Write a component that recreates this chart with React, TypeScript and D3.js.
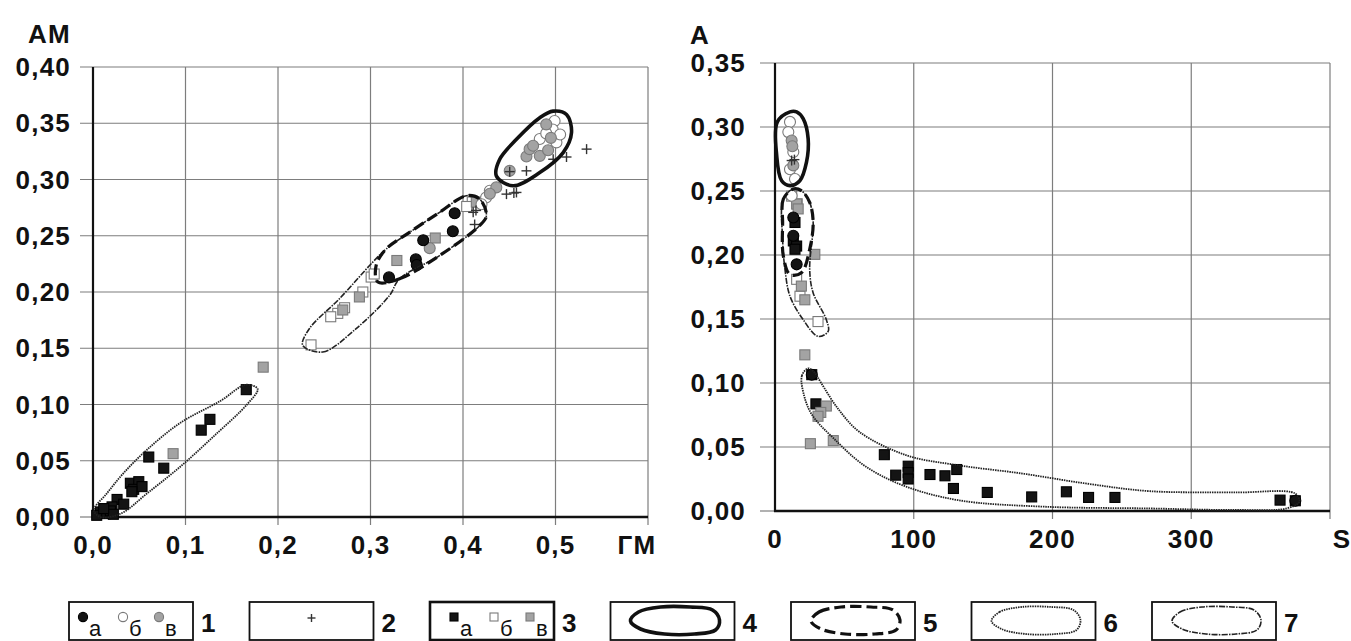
import React from 'react';
import * as d3 from 'd3';

type P = [number, number];

// ---------- Left chart (ГМ vs AM) ----------
const leftXTicks = [0, 0.1, 0.2, 0.3, 0.4, 0.5];
const leftXTickLabels = ['0,0', '0,1', '0,2', '0,3', '0,4', '0,5'];
const leftYTicks = [0, 0.05, 0.1, 0.15, 0.2, 0.25, 0.3, 0.35, 0.4];
const leftYTickLabels = ['0,00', '0,05', '0,10', '0,15', '0,20', '0,25', '0,30', '0,35', '0,40'];
const leftXGrid = [0.1, 0.2, 0.3, 0.4, 0.5, 0.6];
const leftYGrid = [0.05, 0.1, 0.15, 0.2, 0.25, 0.3, 0.35, 0.4];

const leftBlackCircles: P[] = [
  [0.320, 0.213], [0.349, 0.229], [0.350, 0.224], [0.357, 0.246], [0.389, 0.254], [0.391, 0.270],
];
const leftOpenCircles: P[] = [
  [0.499, 0.352], [0.497, 0.3445], [0.501, 0.333], [0.483, 0.336], [0.425, 0.284], [0.429, 0.290],
  [0.490, 0.341], [0.505, 0.340], [0.420, 0.278],
];
const leftGrayCircles: P[] = [
  [0.4505, 0.3077], [0.436, 0.293], [0.429, 0.2873], [0.4686, 0.3204], [0.472, 0.327], [0.483, 0.321],
  [0.4758, 0.330], [0.492, 0.326], [0.490, 0.349], [0.364, 0.239], [0.495, 0.337],
];
const leftPlus: P[] = [
  [0.5336, 0.327], [0.5119, 0.320], [0.4975, 0.318], [0.4686, 0.3077], [0.447, 0.287], [0.4578, 0.2885],
  [0.411, 0.2708], [0.4126, 0.260], [0.414, 0.2725], [0.4505, 0.307], [0.455, 0.288],
];
const leftBlackSquares: P[] = [
  [0.1657, 0.1132], [0.1264, 0.0868], [0.117, 0.0772], [0.0603, 0.0533], [0.0765, 0.0434],
  [0.0404, 0.030], [0.0495, 0.0314], [0.044, 0.0246], [0.053, 0.027], [0.042, 0.0225],
  [0.026, 0.0156], [0.0332, 0.0114], [0.0206, 0.009], [0.008, 0.0045], [0.0134, 0.003],
  [0.0188, 0.0054], [0.004, 0.0015], [0.022, 0.0024], [0.0116, 0.0075],
];
const leftOpenSquares: P[] = [
  [0.2357, 0.153], [0.2646, 0.181], [0.257, 0.178], [0.2917, 0.200], [0.3007, 0.2133], [0.304, 0.216],
  [0.410, 0.280], [0.404, 0.276], [0.272, 0.186],
];
const leftGraySquares: P[] = [
  [0.184, 0.1332], [0.0866, 0.0563], [0.288, 0.1956], [0.3285, 0.228], [0.370, 0.248], [0.4144, 0.280],
  [0.270, 0.184],
];

// contours (outline vertices, data units)
const leftContourLower: P[] = [
  [0.001, 0.006], [0.008, 0.0], [0.03, 0.003], [0.0585, 0.021], [0.0946, 0.0449], [0.1307, 0.0719],
  [0.1668, 0.1003], [0.178, 0.1138], [0.165, 0.1175], [0.138, 0.1033], [0.0946, 0.0838],
  [0.0585, 0.0599], [0.033, 0.039], [0.015, 0.021],
];
const leftContourMiddleThin: P[] = [
  [0.2267, 0.1527], [0.2484, 0.1467], [0.2845, 0.1675], [0.3206, 0.197], [0.3314, 0.2118],
  [0.3747, 0.2324], [0.418, 0.259], [0.4253, 0.2678], [0.418, 0.2826], [0.4036, 0.2856],
  [0.3747, 0.2708], [0.3422, 0.253], [0.317, 0.2383], [0.3025, 0.2266], [0.2664, 0.194], [0.234, 0.1675],
];
const leftContourDashed: P[] = [
  [0.308, 0.2088], [0.3314, 0.2118], [0.3747, 0.2324], [0.418, 0.259], [0.4253, 0.2678],
  [0.418, 0.2826], [0.4036, 0.2856], [0.3747, 0.2708], [0.3422, 0.253], [0.317, 0.2383], [0.3061, 0.2236],
];
const leftContourBold: P[] = [
  [0.4361, 0.3032], [0.4541, 0.2944], [0.483, 0.3062], [0.5083, 0.3239], [0.5173, 0.3416],
  [0.5119, 0.3578], [0.4975, 0.3608], [0.483, 0.3549], [0.4578, 0.3357], [0.4397, 0.318],
];

// ---------- Right chart (S vs A) ----------
const rightXTicks = [0, 100, 200, 300];
const rightXTickLabels = ['0', '100', '200', '300'];
const rightYTicks = [0, 0.05, 0.1, 0.15, 0.2, 0.25, 0.3, 0.35];
const rightYTickLabels = ['0,00', '0,05', '0,10', '0,15', '0,20', '0,25', '0,30', '0,35'];
const rightXGrid = [100, 200, 300, 400];
const rightYGrid = [0.05, 0.1, 0.15, 0.2, 0.25, 0.3, 0.35];

const rightBlackCircles: P[] = [[13.2, 0.215], [15.6, 0.1927], [26.5, 0.1065], [375, 0.008], [13.2, 0.2293]];
const rightOpenCircles: P[] = [[10.8, 0.304], [9.6, 0.296], [13.2, 0.2804], [10.8, 0.267], [14.4, 0.2594], [12, 0.2463]];
const rightGrayCircles: P[] = [[12, 0.2895], [13.2, 0.270], [12.5, 0.285]];
const rightPlus: P[] = [[12, 0.2738], [14, 0.2745]];
const rightBlackSquares: P[] = [
  [14.4, 0.2254], [13.2, 0.211], [15.6, 0.207], [14.4, 0.2045], [26.5, 0.1065], [29.5, 0.0837],
  [78.8, 0.044], [87, 0.028], [96, 0.035], [96, 0.030], [96, 0.025], [111.7, 0.0285], [122.5, 0.0275],
  [131, 0.0324], [128.6, 0.0176], [153, 0.0145], [185, 0.011], [210, 0.015], [226, 0.0106],
  [245, 0.0106], [364, 0.0085], [375, 0.008],
];
const rightOpenSquares: P[] = [[12, 0.246], [15.6, 0.181], [18, 0.1678], [31, 0.148], [16, 0.240]];
const rightGraySquares: P[] = [
  [15.6, 0.2398], [16.7, 0.236], [28.7, 0.2005], [19, 0.1757], [21.5, 0.165], [21.5, 0.122],
  [37, 0.082], [33, 0.077], [31, 0.074], [25.5, 0.0526], [42, 0.055],
];

const rightContourBold: P[] = [
  [10.8, 0.3118], [1.7, 0.304], [1.2, 0.278], [4.8, 0.258], [10.8, 0.2542], [17.9, 0.258],
  [22.7, 0.2725], [23.9, 0.2908], [20.3, 0.3065], [15.6, 0.3118],
];
const rightContourDashed: P[] = [
  [13.2, 0.2516], [6, 0.2437], [5.5, 0.2254], [6, 0.1992], [10.8, 0.1848], [19, 0.1861],
  [25, 0.2045], [27.5, 0.2254], [25, 0.2411], [19, 0.2503],
];
const rightContourThin: P[] = [
  [13.2, 0.2516], [6, 0.2437], [5.5, 0.2123], [7.2, 0.1887], [10.8, 0.1678], [20.3, 0.1495],
  [31, 0.1364], [38.3, 0.1403], [37, 0.1495], [27.5, 0.1704], [25, 0.1887], [27.5, 0.2254],
  [25, 0.2411], [19, 0.2503],
];
const rightContourLower: P[] = [
  [24, 0.1114], [19.4, 0.1057], [21, 0.090], [27, 0.0746], [42.5, 0.0565], [64, 0.0358],
  [91.7, 0.0202], [131.7, 0.0085], [193, 0.0034], [270, 0.002], [331.7, 0.0008], [368.6, 0.002],
  [378, 0.0073], [374.8, 0.0137], [331.7, 0.0145], [270, 0.0155], [224, 0.0215], [178, 0.0293],
  [131.7, 0.0358], [94.8, 0.0435], [61, 0.0617], [45.5, 0.0798], [33, 0.1005], [28.6, 0.108],
];

// ---------- Legend ----------
const legendNumbers = ['1', '2', '3', '4', '5', '6', '7'];
const legendSubLabels = ['а', 'б', 'в'];

const FONT = "'Liberation Sans', Arial, sans-serif";

type ContourStyle = 'bold' | 'dashed' | 'dotted' | 'thin';
const contourStyle: Record<ContourStyle, any> = {
  bold: { stroke: '#111', strokeWidth: 3.6 },
  dashed: { stroke: '#111', strokeWidth: 3.2, strokeDasharray: '11 5' },
  dotted: { stroke: '#222', strokeWidth: 1.8, strokeDasharray: '1.5 0.9' },
  thin: { stroke: '#222', strokeWidth: 1.6, strokeDasharray: '6 1.2 1.5 1.2' },
};

const BLACK = '#141414';
const GRAY = '#a3a3a3';

function Circle({ x, y, kind, r = 5.5 }: { x: number; y: number; kind: string; r?: number }) {
  const fill = kind === 'black' ? BLACK : kind === 'gray' ? GRAY : '#fff';
  const stroke = kind === 'black' ? '#000' : '#7a7a7a';
  return <circle cx={x} cy={y} r={r} fill={fill} stroke={stroke} strokeWidth={1.1} />;
}
function Square({ x, y, kind, s = 10 }: { x: number; y: number; kind: string; s?: number }) {
  const fill = kind === 'black' ? BLACK : kind === 'gray' ? GRAY : '#fff';
  const stroke = kind === 'black' ? '#000' : '#7a7a7a';
  return <rect x={x - s / 2} y={y - s / 2} width={s} height={s} fill={fill} stroke={stroke} strokeWidth={1.1} />;
}
function Plus({ x, y, h = 5 }: { x: number; y: number; h?: number }) {
  return (
    <g stroke="#333" strokeWidth={1.4}>
      <line x1={x - h} x2={x + h} y1={y} y2={y} />
      <line x1={x} x2={x} y1={y - h} y2={y + h} />
    </g>
  );
}

interface ChartProps {
  xDomain: [number, number];
  yDomain: [number, number];
  xRange: [number, number];
  yRange: [number, number];
  xTicks: number[];
  xTickLabels: string[];
  yTicks: number[];
  yTickLabels: string[];
  xGrid: number[];
  yGrid: number[];
  yLabelX: number;
  tickLen: number;
  yTitle: string;
  yTitleX: number;
  yTitleY: number;
  xTitle: string;
  xTitleX: number;
  series: { kind: string; shape: string; pts: P[] }[];
  contours: { style: ContourStyle; pts: P[] }[];
}

function Chart(p: ChartProps) {
  const x = d3.scaleLinear().domain(p.xDomain).range(p.xRange);
  const y = d3.scaleLinear().domain(p.yDomain).range(p.yRange);
  const line = d3
    .line<P>()
    .x((d) => x(d[0]))
    .y((d) => y(d[1]))
    .curve(d3.curveCatmullRomClosed.alpha(0.5));
  const [x0, x1] = p.xRange;
  const [yb, yt] = p.yRange;
  const labelStyle = { fontFamily: FONT, fontWeight: 700, fontSize: 26, letterSpacing: 1.2, fill: '#111' };
  return (
    <g>
      {/* grid */}
      {p.xGrid.map((v) => (
        <line key={'vx' + v} x1={x(v)} x2={x(v)} y1={yt} y2={yb + 8} stroke="#7d7d7d" strokeWidth={1.2} />
      ))}
      {p.yGrid.map((v) => (
        <line key={'hy' + v} x1={x0 - p.tickLen} x2={x1} y1={y(v)} y2={y(v)} stroke="#7d7d7d" strokeWidth={1.2} />
      ))}
      <line x1={x0 - p.tickLen} x2={x0} y1={yb} y2={yb} stroke="#7d7d7d" strokeWidth={1.2} />
      {/* axes */}
      <line x1={x0} x2={x0} y1={yt} y2={yb + 1} stroke="#111" strokeWidth={2.2} />
      <line x1={x0 - 1} x2={x1} y1={yb} y2={yb} stroke="#111" strokeWidth={2.6} />
      {/* points */}
      {p.series.map((s, si) =>
        s.pts.map((d, i) => {
          const cx = x(d[0]);
          const cy = y(d[1]);
          if (s.shape === 'circle') return <Circle key={si + '-' + i} x={cx} y={cy} kind={s.kind} />;
          if (s.shape === 'square') return <Square key={si + '-' + i} x={cx} y={cy} kind={s.kind} />;
          return <Plus key={si + '-' + i} x={cx} y={cy} />;
        })
      )}
      {/* contours */}
      {p.contours.map((c, i) => (
        <path key={'c' + i} d={line(c.pts) || ''} fill="none" strokeLinecap="butt" {...contourStyle[c.style]} />
      ))}
      {/* tick labels */}
      {p.yTicks.map((v, i) => (
        <text key={'yl' + v} x={p.yLabelX} y={y(v) + 9} textAnchor="end" {...labelStyle}>
          {p.yTickLabels[i]}
        </text>
      ))}
      {p.xTicks.map((v, i) => (
        <text key={'xl' + v} x={x(v)} y={yb + 37} textAnchor="middle" {...labelStyle}>
          {p.xTickLabels[i]}
        </text>
      ))}
      <text x={p.xTitleX} y={yb + 37} textAnchor="middle" {...labelStyle}>
        {p.xTitle}
      </text>
      <text x={p.yTitleX} y={p.yTitleY} textAnchor="start" {...labelStyle}>
        {p.yTitle}
      </text>
    </g>
  );
}

function Egg({ cx, cy, style }: { cx: number; cy: number; style: ContourStyle }) {
  const shape: P[] = [
    [-44, 1], [-36, -8], [-14, -13], [16, -13], [38, -10], [45, 0], [41, 10], [20, 14], [-10, 14], [-34, 9],
  ];
  const line = d3
    .line<P>()
    .x((d) => cx + d[0])
    .y((d) => cy + d[1])
    .curve(d3.curveCatmullRomClosed.alpha(0.5));
  return <path d={line(shape) || ''} fill="none" {...contourStyle[style]} />;
}

function Legend() {
  const boxX = d3.scalePoint<string>().domain(legendNumbers).range([69, 1152]);
  const boxW = 124;
  const top = 602;
  const h = 38;
  const cy = top + 18;
  const numStyle = { fontFamily: FONT, fontWeight: 700, fontSize: 26, fill: '#111' };
  const subStyle = { fontFamily: FONT, fontWeight: 400, fontSize: 22, fill: '#111' };
  const kinds = ['black', 'open', 'gray'];
  const subOffsets = [14, 54, 90];
  const eggStyles: ContourStyle[] = ['bold', 'dashed', 'dotted', 'thin'];
  return (
    <g>
      {legendNumbers.map((n, i) => {
        const bx = boxX(n) as number;
        return (
          <g key={n}>
            <rect x={bx} y={top} width={boxW} height={h} fill="#fff" stroke="#111" strokeWidth={i === 2 ? 2.6 : 1.8} />
            <text x={bx + boxW + 8} y={top + 30} {...numStyle}>
              {n}
            </text>
            {i === 0 &&
              kinds.map((k, j) => (
                <g key={k}>
                  <Circle x={bx + subOffsets[j]} y={cy - 3} kind={k} r={4.6} />
                  <text x={bx + subOffsets[j] + 6} y={top + 34} {...subStyle}>
                    {legendSubLabels[j]}
                  </text>
                </g>
              ))}
            {i === 1 && <Plus x={bx + boxW / 2} y={cy - 2} h={4} />}
            {i === 2 &&
              kinds.map((k, j) => (
                <g key={k}>
                  <Square x={bx + subOffsets[j] + 10} y={cy - 3} kind={k} s={8} />
                  <text x={bx + subOffsets[j] + 16} y={top + 34} {...subStyle}>
                    {legendSubLabels[j]}
                  </text>
                </g>
              ))}
            {i >= 3 && <Egg cx={bx + boxW / 2 + 2} cy={cy} style={eggStyles[i - 3]} />}
          </g>
        );
      })}
    </g>
  );
}

export default function App() {
  return (
    <svg
      width={1351}
      height={641}
      style={{ position: 'absolute', left: 0, top: 0, background: '#fff' }}
      xmlns="http://www.w3.org/2000/svg"
    >
      <rect x={0} y={0} width={1351} height={641} fill="#fff" />
      <Chart
        xDomain={[0, 0.6]}
        yDomain={[0, 0.4]}
        xRange={[93, 648]}
        yRange={[517, 67]}
        xTicks={leftXTicks}
        xTickLabels={leftXTickLabels}
        yTicks={leftYTicks}
        yTickLabels={leftYTickLabels}
        xGrid={leftXGrid}
        yGrid={leftYGrid}
        yLabelX={71}
        tickLen={13}
        yTitle="АМ"
        yTitleX={28}
        yTitleY={43}
        xTitle="ГМ"
        xTitleX={637}
        series={[
          { kind: 'black', shape: 'square', pts: leftBlackSquares },
          { kind: 'open', shape: 'square', pts: leftOpenSquares },
          { kind: 'gray', shape: 'square', pts: leftGraySquares },
          { kind: 'open', shape: 'circle', pts: leftOpenCircles },
          { kind: 'gray', shape: 'circle', pts: leftGrayCircles },
          { kind: 'black', shape: 'circle', pts: leftBlackCircles },
          { kind: 'plus', shape: 'plus', pts: leftPlus },
        ]}
        contours={[
          { style: 'dotted', pts: leftContourLower },
          { style: 'thin', pts: leftContourMiddleThin },
          { style: 'dashed', pts: leftContourDashed },
          { style: 'bold', pts: leftContourBold },
        ]}
      />
      <Chart
        xDomain={[0, 400]}
        yDomain={[0, 0.35]}
        xRange={[775, 1330]}
        yRange={[511, 63]}
        xTicks={rightXTicks}
        xTickLabels={rightXTickLabels}
        yTicks={rightYTicks}
        yTickLabels={rightYTickLabels}
        xGrid={rightXGrid}
        yGrid={rightYGrid}
        yLabelX={746}
        tickLen={15}
        yTitle="А"
        yTitleX={690}
        yTitleY={44}
        xTitle="S"
        xTitleX={1342}
        series={[
          { kind: 'black', shape: 'square', pts: rightBlackSquares },
          { kind: 'open', shape: 'square', pts: rightOpenSquares },
          { kind: 'gray', shape: 'square', pts: rightGraySquares },
          { kind: 'open', shape: 'circle', pts: rightOpenCircles },
          { kind: 'gray', shape: 'circle', pts: rightGrayCircles },
          { kind: 'black', shape: 'circle', pts: rightBlackCircles },
          { kind: 'plus', shape: 'plus', pts: rightPlus },
        ]}
        contours={[
          { style: 'dotted', pts: rightContourLower },
          { style: 'thin', pts: rightContourThin },
          { style: 'dashed', pts: rightContourDashed },
          { style: 'bold', pts: rightContourBold },
        ]}
      />
      <Legend />
    </svg>
  );
}
